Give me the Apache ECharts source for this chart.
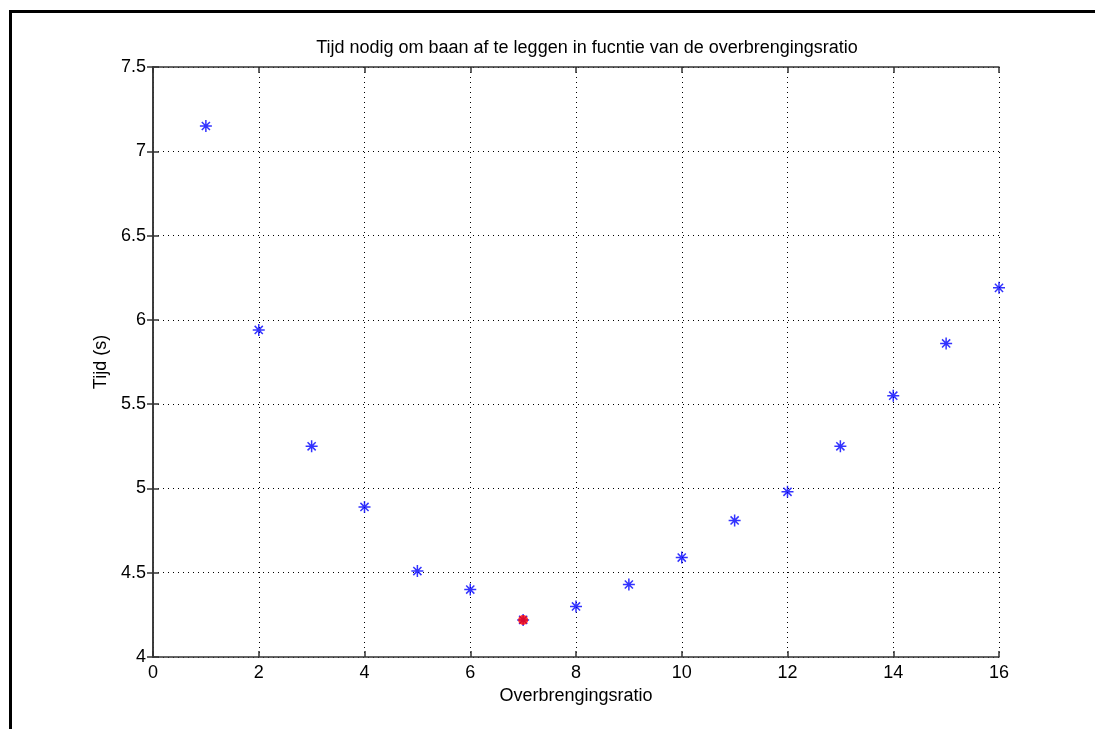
<!DOCTYPE html>
<html>
<head>
<meta charset="utf-8">
<script src="https://cdn.jsdelivr.net/npm/echarts@6/dist/echarts.min.js"></script>
<style>html,body{margin:0;padding:0;background:#fff;}#c{width:1095px;height:729px;}</style>
</head>
<body>
<div id="c"></div>
<script>
const ratios = [1,2,3,4,5,6,7,8,9,10,11,12,13,14,15,16];
const times = [7.15,5.94,5.25,4.89,4.51,4.40,4.22,4.30,4.43,4.59,4.81,4.98,5.25,5.55,5.86,6.19];
const bestRatio = [7];
const bestTime = [4.22];
const titleText = 'Tijd nodig om baan af te leggen in fucntie van de overbrengingsratio';
const xLabel = 'Overbrengingsratio';
const yLabel = 'Tijd (s)';

const FONT = '"Liberation Sans", Arial, sans-serif';
const star = 'path://M0,5L10,5M5,0L5,10M1.6,1.6L8.4,8.4M8.4,1.6L1.6,8.4';
const axisCol = '#333';

const chart = echarts.init(document.getElementById('c'));
const common = {
  axisLine: {show: true, lineStyle: {color: axisCol, width: 1.5}},
  axisTick: {show: true, inside: true, length: 6, lineStyle: {color: axisCol, width: 1.5}},
  splitLine: {show: false}
};
chart.setOption({
  animation: false,
  backgroundColor: '#fff',
  title: {text: titleText, left: 582, top: 34, textAlign: 'center',
    textStyle: {fontFamily: FONT, fontSize: 18, fontWeight: 'normal', color: '#000'}},
  grid: {left: 153, top: 67, width: 846, height: 590},
  xAxis: [
    Object.assign({type: 'value', min: 0, max: 16, interval: 2, position: 'bottom',
      name: xLabel, nameLocation: 'middle', nameGap: 21,
      nameTextStyle: {fontFamily: FONT, fontSize: 18, color: '#000'},
      axisLabel: {fontFamily: FONT, fontSize: 18, color: '#000', margin: 7}}, common,
      {splitLine: {show: true, lineStyle: {type: [1, 4], color: '#000', width: 1}}}),
    Object.assign({type: 'value', min: 0, max: 16, interval: 2, position: 'top',
      axisLabel: {show: false}}, common)
  ],
  yAxis: [
    Object.assign({type: 'value', min: 4, max: 7.5, interval: 0.5, position: 'left',
      name: yLabel, nameLocation: 'middle', nameGap: 43, nameRotate: 90,
      nameTextStyle: {fontFamily: FONT, fontSize: 18, color: '#000'},
      axisLabel: {fontFamily: FONT, fontSize: 18, color: '#000', margin: 7}}, common,
      {splitLine: {show: true, lineStyle: {type: [1, 4], color: '#000', width: 1}}}),
    Object.assign({type: 'value', min: 4, max: 7.5, interval: 0.5, position: 'right',
      axisLabel: {show: false}}, common)
  ],
  series: [
    {type: 'scatter', data: ratios.map((r, i) => [r, times[i]]),
      symbol: star, symbolSize: 12, z: 3,
      itemStyle: {color: 'none', borderColor: '#0000ff', borderWidth: 1.5}},
    {type: 'scatter', data: bestRatio.map((r, i) => [r, bestTime[i]]),
      symbol: 'circle', symbolSize: 10, z: 4,
      itemStyle: {color: '#ff0000', borderWidth: 0}}
  ],
  graphic: [
    {type: 'rect', shape: {x: 10.5, y: 11.5, width: 1200, height: 1000},
      style: {fill: 'none', stroke: '#000', lineWidth: 3}, silent: true}
  ]
});
</script>
</body>
</html>
